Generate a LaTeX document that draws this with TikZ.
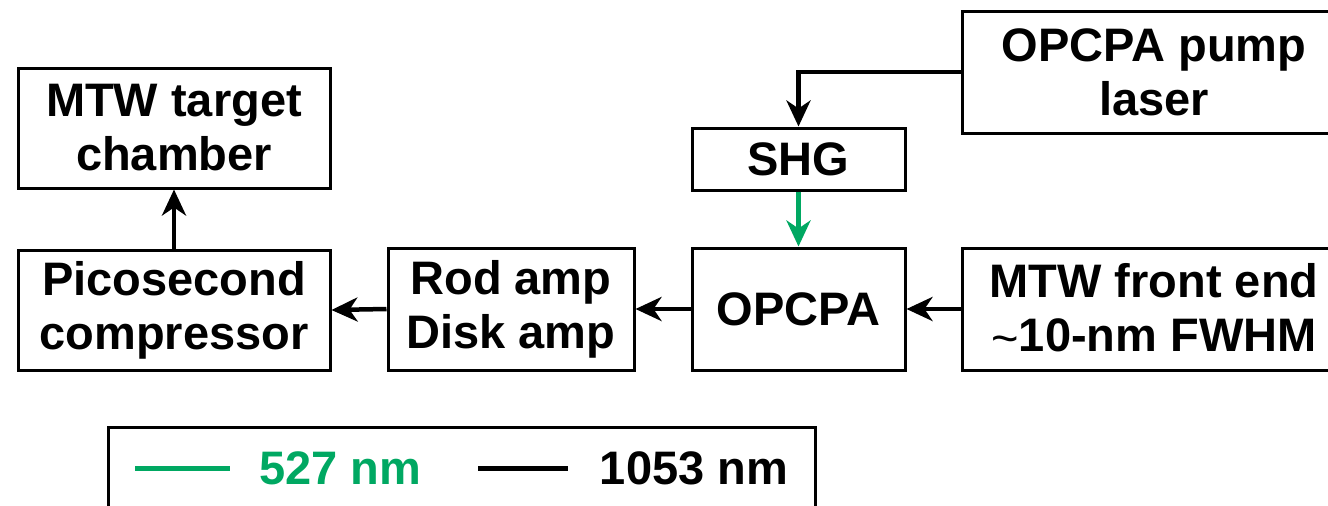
\documentclass[tikz,border=0pt]{standalone}
\usepackage{fontspec}
\setmainfont{Liberation Sans}
\usetikzlibrary{arrows.meta}
\definecolor{lgreen}{RGB}{0,168,98}
\newcommand{\mytilde}{{\mdseries\raisebox{-0.12ex}{\char"7E}}}
\tikzset{
  blk/.style={draw, line width=3pt, align=center, inner sep=0pt,
    font=\fontsize{47pt}{54pt}\selectfont\bfseries},
  conn/.style={line width=4.5pt, -{Stealth[length=26pt,width=24pt,inset=8pt]}},
  lgtext/.style={inner sep=0pt, font=\fontsize{47pt}{54pt}\selectfont\bfseries}
}
\begin{document}
\begin{tikzpicture}[x=1pt,y=-1pt]
\useasboundingbox (0,0) rectangle (1328,506);
\node[blk, minimum width=312pt, minimum height=120pt] (tgt) at (174,128) {MTW target\\chamber};
\node[blk, minimum width=312pt, minimum height=120pt] (cmp) at (174,310) {Picosecond\\compressor};
\node[blk, minimum width=246pt, minimum height=122pt] (rod) at (511,309) {Rod amp\\Disk amp};
\node[blk, minimum width=213pt, minimum height=122pt] (opc) at (798.5,309) {OPCPA};
\node[blk, minimum width=384pt, minimum height=122pt] (fe) at (1154,309) {MTW front end\\\mytilde10-nm FWHM};
\node[blk, minimum width=384pt, minimum height=122pt] (pump) at (1154,72) {OPCPA pump\\laser};
\node[blk, minimum width=213pt, minimum height=62pt] (shg) at (798.5,159) {SHG};
\draw[conn] (fe.west) -- (opc.east);
\draw[conn] (opc.west) -- (rod.east);
\draw[conn] (rod.west) -- (cmp.east);
\draw[conn] (cmp.north) -- (tgt.south);
\draw[conn] (pump.west) -| (shg.north);
\draw[conn, lgreen] (shg.south) -- (opc.north);
% legend
\node[draw, line width=3pt, minimum width=707pt, minimum height=120pt, inner sep=0pt] (leg) at (461.5,487) {};
\coordinate (g1) at (135,468);
\coordinate (g2) at (230,468);
\coordinate (b1) at (478,468);
\coordinate (b2) at (568,468);
\draw[line width=5pt, lgreen] (g1) -- (g2);
\draw[line width=5pt] (b1) -- (b2);
\node[lgtext, text=lgreen] (t527) at (340,468) {527 nm};
\node[lgtext] (t1053) at (694,468) {1053 nm};
\end{tikzpicture}
\end{document}
